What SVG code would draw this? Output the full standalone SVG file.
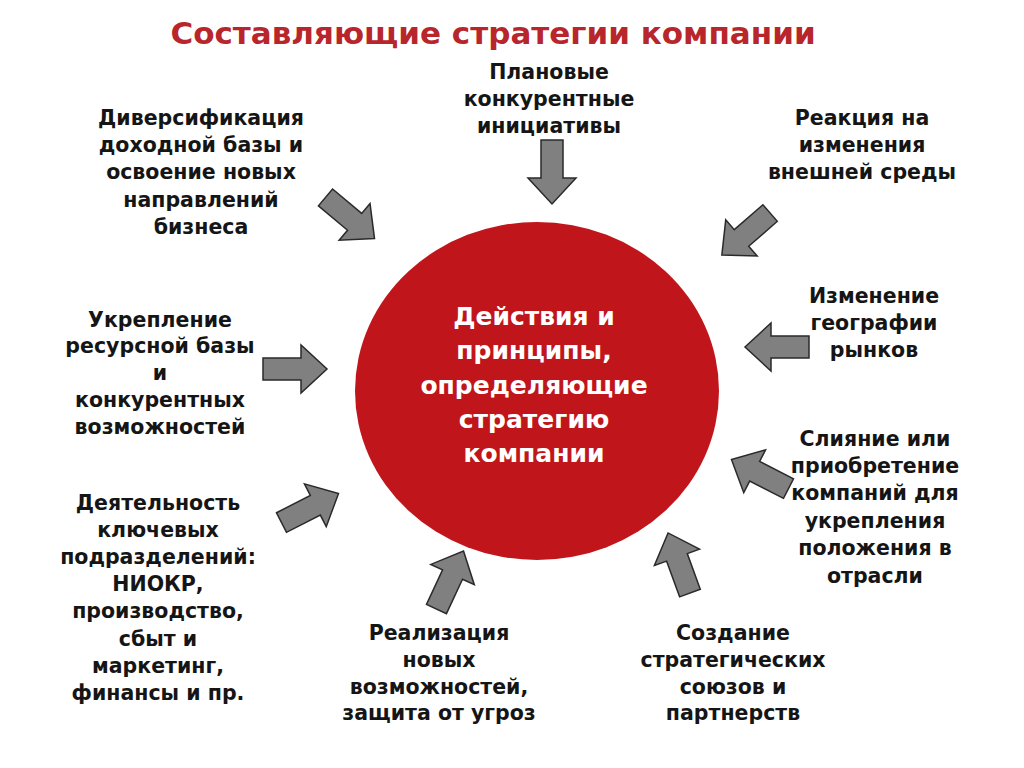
<svg xmlns="http://www.w3.org/2000/svg" width="1024" height="768" viewBox="0 0 1024 768">
<style>
.t{font-family:"DejaVu Sans","Liberation Sans",sans-serif;font-weight:bold;font-size:20.5px;fill:#151515;text-anchor:middle}
.c{font-family:"DejaVu Sans","Liberation Sans",sans-serif;font-weight:bold;font-size:25px;fill:#ffffff;text-anchor:middle}
.h{font-family:"DejaVu Sans","Liberation Sans",sans-serif;font-weight:bold;font-size:31px;fill:#b8262c;text-anchor:middle}
.a{fill:#808080;stroke:#2a2a2a;stroke-width:1.5;stroke-linejoin:miter}
</style>
<defs>
<path id="arr" d="M-32,-11 L6,-11 L6,-24 L32,0 L6,24 L6,11 L-32,11 Z"/>
</defs>
<rect width="1024" height="768" fill="#ffffff"/>
<text class="h" x="493" y="44">Составляющие стратегии компании</text>
<g id="center">
<ellipse cx="537" cy="391" rx="182" ry="169" fill="#c0151b"/>
<text class="c" x="534" y="325">Действия и</text>
<text class="c" x="534" y="359">принципы,</text>
<text class="c" x="534" y="394">определяющие</text>
<text class="c" x="534" y="428">стратегию</text>
<text class="c" x="534" y="462">компании</text>
</g>
<g id="connectors">
<use href="#arr" class="a" transform="translate(552,172) rotate(90)"/>
<use href="#arr" class="a" transform="translate(350,218) rotate(40)"/>
<use href="#arr" class="a" transform="translate(746,234) rotate(139)"/>
<use href="#arr" class="a" transform="translate(295,369)"/>
<use href="#arr" class="a" transform="translate(777,347) rotate(180)"/>
<use href="#arr" class="a" transform="translate(310,508) rotate(-27)"/>
<use href="#arr" class="a" transform="translate(450,580) rotate(-65)"/>
<use href="#arr" class="a" transform="translate(679,563) rotate(-110)"/>
<use href="#arr" class="a" transform="translate(760,474) rotate(-153)"/>
</g>
<g id="n-plan">
<text class="t" x="549" y="79">Плановые</text>
<text class="t" x="549" y="106">конкурентные</text>
<text class="t" x="549" y="133">инициативы</text>
</g>
<g id="n-divers">
<text class="t" x="201" y="125">Диверсификация</text>
<text class="t" x="201" y="152">доходной базы  и</text>
<text class="t" x="201" y="179">освоение новых</text>
<text class="t" x="201" y="207">направлений</text>
<text class="t" x="201" y="234">бизнеса</text>
</g>
<g id="n-react">
<text class="t" x="862" y="125">Реакция на</text>
<text class="t" x="862" y="152">изменения</text>
<text class="t" x="862" y="179">внешней среды</text>
</g>
<g id="n-resource">
<text class="t" x="160" y="327">Укрепление</text>
<text class="t" x="160" y="353">ресурсной базы</text>
<text class="t" x="160" y="380">и</text>
<text class="t" x="160" y="407">конкурентных</text>
<text class="t" x="160" y="434">возможностей</text>
</g>
<g id="n-geo">
<text class="t" x="874" y="303">Изменение</text>
<text class="t" x="874" y="330">географии</text>
<text class="t" x="874" y="357">рынков</text>
</g>
<g id="n-merge">
<text class="t" x="875" y="446">Слияние или</text>
<text class="t" x="875" y="473">приобретение</text>
<text class="t" x="875" y="500">компаний для</text>
<text class="t" x="875" y="528">укрепления</text>
<text class="t" x="875" y="555">положения в</text>
<text class="t" x="875" y="583">отрасли</text>
</g>
<g id="n-units">
<text class="t" x="158" y="510">Деятельность</text>
<text class="t" x="158" y="537">ключевых</text>
<text class="t" x="158" y="564">подразделений:</text>
<text class="t" x="158" y="591">НИОКР,</text>
<text class="t" x="158" y="618">производство,</text>
<text class="t" x="158" y="646">сбыт и</text>
<text class="t" x="158" y="673">маркетинг,</text>
<text class="t" x="158" y="700">финансы и пр.</text>
</g>
<g id="n-realize">
<text class="t" x="439" y="640">Реализация</text>
<text class="t" x="439" y="667">новых</text>
<text class="t" x="439" y="694">возможностей,</text>
<text class="t" x="439" y="720">защита от угроз</text>
</g>
<g id="n-alliance">
<text class="t" x="733" y="640">Создание</text>
<text class="t" x="733" y="667">стратегических</text>
<text class="t" x="733" y="694">союзов и</text>
<text class="t" x="733" y="720">партнерств</text>
</g>
</svg>
